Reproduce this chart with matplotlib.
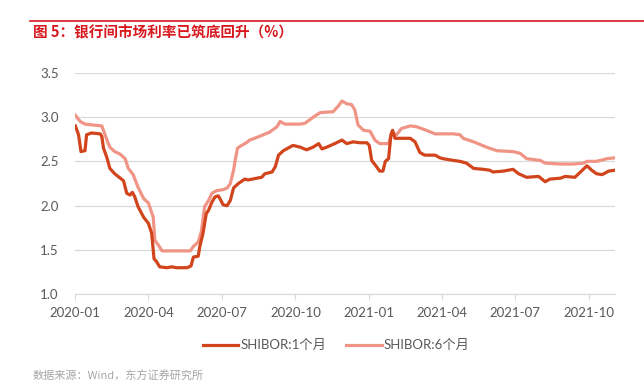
import matplotlib
matplotlib.use('Agg')
import matplotlib.pyplot as plt
import matplotlib.dates as mdates
import pandas as pd

# SHIBOR 1个月
dates_1m = ['2020-01-01', '2020-01-05', '2020-01-08', '2020-01-13', '2020-01-15', '2020-01-21',
            '2020-02-01', '2020-02-03', '2020-02-05', '2020-02-09', '2020-02-13', '2020-02-19',
            '2020-02-26', '2020-03-01', '2020-03-05', '2020-03-09', '2020-03-12', '2020-03-15',
            '2020-03-19', '2020-03-26', '2020-04-01', '2020-04-05', '2020-04-08', '2020-04-11',
            '2020-04-15', '2020-04-24', '2020-04-30', '2020-05-06', '2020-05-19', '2020-05-24',
            '2020-05-27', '2020-06-02', '2020-06-04', '2020-06-08', '2020-06-12', '2020-06-15',
            '2020-06-19', '2020-06-23', '2020-06-27', '2020-06-29', '2020-07-03', '2020-07-08',
            '2020-07-12', '2020-07-16', '2020-07-22', '2020-07-30', '2020-08-03', '2020-08-14',
            '2020-08-20', '2020-08-24', '2020-09-02', '2020-09-06', '2020-09-10', '2020-09-16',
            '2020-09-22', '2020-09-28', '2020-10-07', '2020-10-15', '2020-10-23', '2020-10-30',
            '2020-11-03', '2020-11-09', '2020-11-19', '2020-11-28', '2020-12-04', '2020-12-12',
            '2020-12-20', '2020-12-29', '2021-01-01', '2021-01-04', '2021-01-10', '2021-01-14',
            '2021-01-18', '2021-01-21', '2021-01-25', '2021-01-28', '2021-01-30', '2021-02-02',
            '2021-02-12', '2021-02-21', '2021-02-27', '2021-03-05', '2021-03-11', '2021-03-24',
            '2021-03-30', '2021-04-03', '2021-04-16', '2021-04-24', '2021-05-02', '2021-05-11',
            '2021-05-23', '2021-05-31', '2021-06-04', '2021-06-17', '2021-06-29', '2021-07-06',
            '2021-07-16', '2021-07-31', '2021-08-08', '2021-08-14', '2021-08-27', '2021-09-02',
            '2021-09-14', '2021-09-21', '2021-09-29', '2021-10-05', '2021-10-11', '2021-10-18',
            '2021-10-26', '2021-11-03']
shibor_1m = [2.90, 2.80, 2.61, 2.62, 2.80, 2.82,
             2.81, 2.78, 2.65, 2.55, 2.42, 2.36,
             2.31, 2.28, 2.14, 2.12, 2.15, 2.10,
             1.99, 1.87, 1.80, 1.69, 1.40, 1.37,
             1.31, 1.30, 1.31, 1.30, 1.30, 1.32,
             1.42, 1.43, 1.54, 1.69, 1.91, 1.95,
             2.04, 2.10, 2.11, 2.08, 2.01, 2.00,
             2.06, 2.20, 2.25, 2.30, 2.29, 2.31,
             2.32, 2.36, 2.38, 2.44, 2.57, 2.62,
             2.65, 2.68, 2.66, 2.63, 2.66, 2.70,
             2.64, 2.66, 2.70, 2.74, 2.70, 2.72,
             2.71, 2.71, 2.68, 2.51, 2.44, 2.39,
             2.39, 2.50, 2.53, 2.80, 2.85, 2.76,
             2.76, 2.76, 2.72, 2.60, 2.57, 2.57,
             2.54, 2.53, 2.51, 2.50, 2.48, 2.42,
             2.41, 2.40, 2.38, 2.39, 2.41, 2.36,
             2.32, 2.33, 2.27, 2.30, 2.31, 2.33,
             2.32, 2.38, 2.45, 2.40, 2.36, 2.35,
             2.39, 2.40]

# SHIBOR 6个月
dates_6m = ['2020-01-01', '2020-01-07', '2020-01-13', '2020-01-23', '2020-02-03', '2020-02-07',
            '2020-02-11', '2020-02-13', '2020-02-19', '2020-02-26', '2020-03-03', '2020-03-07',
            '2020-03-13', '2020-03-19', '2020-03-26', '2020-04-01', '2020-04-07', '2020-04-09',
            '2020-04-13', '2020-04-18', '2020-04-28', '2020-05-10', '2020-05-23', '2020-05-27',
            '2020-06-02', '2020-06-06', '2020-06-10', '2020-06-15', '2020-06-19', '2020-06-25',
            '2020-07-03', '2020-07-08', '2020-07-12', '2020-07-16', '2020-07-18', '2020-07-21',
            '2020-07-26', '2020-08-01', '2020-08-05', '2020-08-14', '2020-08-22', '2020-08-30',
            '2020-09-08', '2020-09-12', '2020-09-18', '2020-10-07', '2020-10-13', '2020-10-19',
            '2020-10-25', '2020-11-01', '2020-11-17', '2020-11-23', '2020-11-28', '2020-12-04',
            '2020-12-10', '2020-12-14', '2020-12-18', '2020-12-25', '2021-01-02', '2021-01-08',
            '2021-01-14', '2021-01-25', '2021-01-29', '2021-02-04', '2021-02-10', '2021-02-21',
            '2021-03-01', '2021-03-13', '2021-03-24', '2021-04-16', '2021-04-24', '2021-04-28',
            '2021-05-11', '2021-05-27', '2021-06-09', '2021-06-29', '2021-07-08', '2021-07-16',
            '2021-08-02', '2021-08-08', '2021-08-27', '2021-09-12', '2021-09-25', '2021-09-29',
            '2021-10-11', '2021-10-24', '2021-11-03']
shibor_6m = [3.02, 2.95, 2.92, 2.91, 2.90, 2.80,
             2.70, 2.66, 2.61, 2.58, 2.53, 2.42,
             2.35, 2.21, 2.08, 2.03, 1.87, 1.61,
             1.56, 1.49, 1.49, 1.49, 1.49, 1.54,
             1.59, 1.71, 1.99, 2.06, 2.14, 2.17,
             2.18, 2.20, 2.25, 2.40, 2.51, 2.65,
             2.68, 2.71, 2.74, 2.77, 2.80, 2.83,
             2.89, 2.95, 2.92, 2.92, 2.93, 2.97,
             3.01, 3.05, 3.06, 3.12, 3.18, 3.15,
             3.14, 3.08, 2.91, 2.85, 2.84, 2.74,
             2.70, 2.70, 2.82, 2.80, 2.87, 2.90,
             2.89, 2.85, 2.81, 2.81, 2.80, 2.76,
             2.72, 2.66, 2.62, 2.61, 2.59, 2.53,
             2.51, 2.48, 2.47, 2.47, 2.48, 2.50,
             2.50, 2.53, 2.54]

tick_dates = ['2020-01-01', '2020-04-01', '2020-07-01', '2020-10-01',
              '2021-01-01', '2021-04-01', '2021-07-01', '2021-10-01']
y_ticks = [1.0, 1.5, 2.0, 2.5, 3.0, 3.5]

cjk = ['Lato', 'Noto Sans CJK SC', 'DejaVu Sans']
plt.rcParams['font.family'] = cjk

fig = plt.figure(figsize=(6.44, 3.89), dpi=100)
ax = fig.add_axes([0.117, 0.2434, 0.838, 0.5697])

ax.plot(pd.to_datetime(dates_1m), shibor_1m, color='#D2441C', lw=2.3, label='SHIBOR:1个月', zorder=3)
ax.plot(pd.to_datetime(dates_6m), shibor_6m, color='#F09486', lw=2.3, label='SHIBOR:6个月', zorder=2)

ax.set_ylim(1.0, 3.5)
ax.set_yticks(y_ticks)
ax.set_yticklabels(['%.1f' % v for v in y_ticks])
ax.set_xlim(pd.Timestamp('2020-01-01'), pd.Timestamp('2021-11-03'))
ax.set_xticks(pd.to_datetime(tick_dates))
ax.xaxis.set_major_formatter(mdates.DateFormatter('%Y-%m'))

ax.grid(axis='y', color='#D9D9D9', lw=0.9)
ax.set_axisbelow(True)
for s in ['top', 'right', 'left']:
    ax.spines[s].set_visible(False)
ax.spines['bottom'].set_color('#D9D9D9')
ax.tick_params(axis='y', length=0, pad=12, labelsize=9.5, labelcolor='#595959')
ax.tick_params(axis='x', length=4, color='#D9D9D9', pad=5, labelsize=9.5, labelcolor='#595959')

fig.legend(loc='center', bbox_to_anchor=(0.522, 0.113), ncol=2, frameon=False,
           fontsize=9.5, handlelength=2.7, handletextpad=0.15, columnspacing=1.5,
           labelcolor='#595959')

# 标题与红线
fig.add_artist(plt.Line2D([30 / 644, 1.0], [1 - 21 / 389, 1 - 21 / 389], color='#D7191F', lw=1.2))
fig.text(33 / 644, 1 - 32 / 389, '图 5：银行间市场利率已筑底回升（%）', color='#D7191F',
         fontsize=10.5, fontweight='bold', va='center', ha='left', family=['Noto Sans CJK SC', 'DejaVu Sans'])
fig.text(33 / 644, 1 - 376 / 389, '数据来源：Wind，东方证券研究所', color='#A6A6A6',
         fontsize=8, va='center', ha='left', family=['Noto Sans CJK SC', 'DejaVu Sans'])

fig.savefig('out.png', dpi=100)
